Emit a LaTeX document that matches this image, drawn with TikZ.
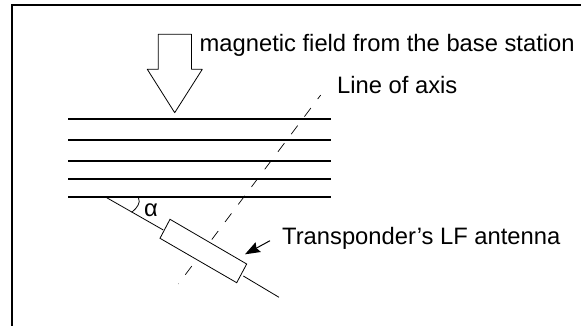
\documentclass[tikz,border=0pt]{standalone}
\usepackage{fontspec}
\setmainfont{Liberation Sans}
\usetikzlibrary{arrows.meta, calc, positioning}
\tikzset{
    frameline/.style={line width=2pt},
    fieldline/.style={line width=1.7pt},
    thinline/.style={line width=0.8pt},
    axisline/.style={line width=0.7pt,dash pattern=on 10.7pt off 11.3pt,dash phase=5.7pt},
    lbl/.style={font=\fontsize{23.75}{26}\selectfont,inner sep=0pt},
}
\begin{document}
\begin{tikzpicture}[x=1pt,y=-1pt]
\useasboundingbox (0,0) rectangle (581,326);
\draw[frameline] (12,326) -- (12,5) -- (581,5);
%
\foreach \y in {119,140,161,179,197}
    \draw[fieldline] (68,\y) -- (331,\y);
%
\draw[thinline,line join=round] (158.3,69.3) -- (147.3,69.3) -- (174.7,112.7) -- (202.3,69.3) -- (191.5,69.3) -- (191.5,34.3) -- (158.3,34.3) -- cycle;
%
\draw[axisline] (320.7,95) -- (178.3,284);
%
\draw[thinline] (106.7,197.7) -- (163.3,230);
\draw[thinline] (243.3,276) -- (279,297.3);
\draw[thinline,fill=white] (170,219.3) -- (246.7,264) -- (236.7,282.7) -- (160,238.3) -- cycle;
\draw[thinline] (131.7,212.3) .. controls (137,208) and (141,203) .. (138.5,197.7);
\node[lbl,anchor=center] (alpha) at (151,210) {α};
%
\node[lbl,anchor=base west] (fieldlabel) at (199.5,51.7) {magnetic field from the base station};
\node[lbl,anchor=base west] (axislabel) at (337,94) {Line of axis};
\node[lbl,anchor=base west] (antennalabel) at (282,244) {Transponder's LF antenna};
\coordinate (antennatip) at (245,254.3);
\coordinate (antennatail) at (270,240.7);
\draw[line width=1pt,-{Stealth[length=15pt,width=11pt,inset=2pt]}] (antennatail) -- (antennatip);
\end{tikzpicture}
\end{document}
